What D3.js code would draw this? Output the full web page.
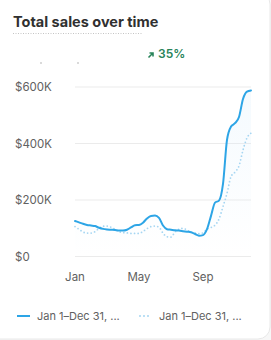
<!DOCTYPE html>
<html>
<head>
<meta charset="utf-8">
<script src="https://cdn.jsdelivr.net/npm/d3@7"></script>
<style>
  html, body { margin: 0; padding: 0; background: #f7f7f7; overflow: hidden; }
  #chart { width: 271px; height: 340px; }
  text { font-family: Inter, "Noto Sans", sans-serif; }
</style>
</head>
<body>
<div id="chart"></div>
<script>
(function () {
  // roughly weekly points, Jan 1 -> Dec 31
  const currentSales = [124, 119, 114, 110, 108, 106, 100, 96, 94, 93, 92, 90, 90, 93, 101, 109, 110, 118, 133, 142, 143, 135, 108,
    95, 93, 91, 90, 88, 86, 84, 78, 72, 74, 95, 142, 189, 196, 255, 411, 458, 470, 492, 556, 582, 586];
  const previousSales = [104, 95, 85, 81, 81, 86, 98, 105, 106, 102, 95, 86, 83, 82, 80, 80, 80, 87, 97, 104, 106, 102, 81,
    68, 67, 85, 95, 98, 92, 85, 81, 79, 82, 95, 101, 109, 131, 175, 222, 281, 297, 319, 375, 418, 435];
  const xTickIndex = [0, 16, 32];
  const xTickLabels = ["Jan", "May", "Sep"];
  const yTicks = [0, 200, 400, 600];
  const legendLabels = ["Jan 1–Dec 31, ...", "Jan 1–Dec 31, ..."];
  const changeLabel = "35%";

  const width = 271;
  const height = 340;
  const margin = { left: 75, right: 20, top: 86.5, bottom: 84 };

  const svg = d3.select("#chart")
    .append("svg")
    .attr("width", width)
    .attr("height", height);

  // card
  svg.append("rect")
    .attr("x", -12)
    .attr("y", -8)
    .attr("width", 282)
    .attr("height", 347)
    .attr("rx", 12)
    .attr("fill", "#fff")
    .attr("stroke", "#e8e8e8");

  // title with dotted underline
  svg.append("text")
    .attr("x", 13)
    .attr("y", 27)
    .style("font-size", "14.5px")
    .style("font-weight", 650)
    .style("fill", "#303030")
    .text("Total sales over time");

  svg.append("line")
    .attr("x1", 13)
    .attr("x2", 142)
    .attr("y1", 33.5)
    .attr("y2", 33.5)
    .attr("stroke", "#c4c4c4")
    .attr("stroke-dasharray", "1 1.5");

  // change badge
  const badge = svg.append("g").attr("transform", "translate(148,54)");
  badge.append("path")
    .attr("d", "M0.5,3.5 L4.5,-0.5 M1.5,-1 L5,-1 L5,2.5")
    .attr("fill", "none")
    .attr("stroke", "#29845a")
    .attr("stroke-width", 1.6);
  badge.append("text")
    .attr("x", 10)
    .attr("y", 4)
    .style("font-size", "12px")
    .style("font-weight", 600)
    .style("fill", "#29845a")
    .text(changeLabel);

  // small clipped marks under the badge row
  [40, 77].forEach(xx => {
    svg.append("rect")
      .attr("x", xx)
      .attr("y", 62.5)
      .attr("width", 2)
      .attr("height", 1)
      .attr("fill", "#b5b5b5");
  });

  const x = d3.scaleLinear()
    .domain([0, currentSales.length - 1])
    .range([margin.left, width - margin.right]);

  const y = d3.scaleLinear()
    .domain([0, 600])
    .range([256, margin.top]);

  // grid + y labels
  svg.append("g")
    .selectAll("line")
    .data(yTicks)
    .enter()
    .append("line")
    .attr("x1", margin.left)
    .attr("x2", width - margin.right)
    .attr("y1", d => y(d) + 0.5)
    .attr("y2", d => y(d) + 0.5)
    .attr("stroke", "#ebebeb");

  svg.append("g")
    .selectAll("text")
    .data(yTicks)
    .enter()
    .append("text")
    .attr("x", 15)
    .attr("y", d => y(d) + 4.5)
    .style("font-size", "11.5px")
    .style("fill", "#616161")
    .text(d => d === 0 ? "$0" : "$" + d + "K");

  // x labels
  svg.append("g")
    .selectAll("text")
    .data(xTickIndex)
    .enter()
    .append("text")
    .attr("x", d => x(d))
    .attr("y", 281)
    .attr("text-anchor", "middle")
    .style("font-size", "11.5px")
    .style("fill", "#616161")
    .text((d, i) => xTickLabels[i]);

  // soft area under current line
  const defs = svg.append("defs");
  const grad = defs.append("linearGradient")
    .attr("id", "areaFill")
    .attr("x1", 0).attr("x2", 0).attr("y1", 0).attr("y2", 1);
  grad.append("stop").attr("offset", "0%").attr("stop-color", "#d6ecfb").attr("stop-opacity", 0.25);
  grad.append("stop").attr("offset", "100%").attr("stop-color", "#d6ecfb").attr("stop-opacity", 0);

  const area = d3.area()
    .x((d, i) => x(i))
    .y0(y(0))
    .y1(d => y(d))
    .curve(d3.curveMonotoneX);

  svg.append("path")
    .datum(currentSales)
    .attr("d", area)
    .attr("fill", "url(#areaFill)");

  const line = d3.line()
    .x((d, i) => x(i))
    .y(d => y(d))
    .curve(d3.curveMonotoneX);

  svg.append("path")
    .datum(previousSales)
    .attr("d", line)
    .attr("fill", "none")
    .attr("stroke", "#a6d6f2")
    .attr("stroke-width", 1.8)
    .attr("stroke-linecap", "round")
    .attr("stroke-dasharray", "0 3.6");

  svg.append("path")
    .datum(currentSales)
    .attr("d", line)
    .attr("fill", "none")
    .attr("stroke", "#2da5e6")
    .attr("stroke-width", 2)
    .attr("stroke-linecap", "round");

  // legend
  const legend = svg.append("g").attr("transform", "translate(0,316)");
  const legendX = [17, 139];
  legendLabels.forEach((label, i) => {
    legend.append("line")
      .attr("x1", legendX[i] + (i ? 1 : 0))
      .attr("x2", legendX[i] + 13)
      .attr("y1", 0)
      .attr("y2", 0)
      .attr("stroke", i ? "#a6d6f2" : "#2da5e6")
      .attr("stroke-width", 2)
      .attr("stroke-linecap", i ? "round" : "butt")
      .attr("stroke-dasharray", i ? "0 4" : null);
    legend.append("text")
      .attr("x", legendX[i] + 20)
      .attr("y", 4)
      .style("font-size", "11px")
      .style("fill", "#616161")
      .text(label);
  });
})();
</script>
</body>
</html>
